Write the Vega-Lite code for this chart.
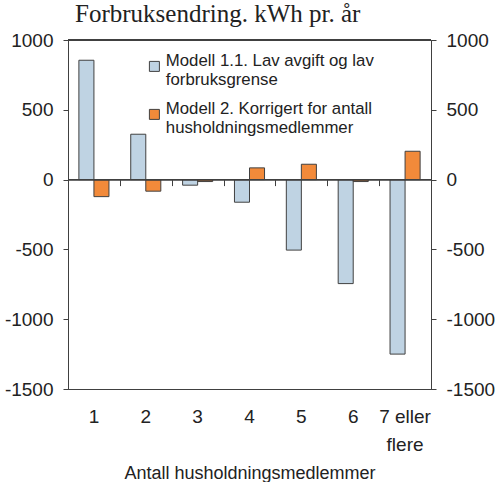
{
  "$schema": "https://vega.github.io/schema/vega-lite/v6.json",
  "width": 363,
  "height": 349,
  "padding": {"left": 4, "top": 2, "right": 3, "bottom": 0},
  "background": "white",
  "title": {
    "text": "Forbruksendring. kWh pr. år",
    "font": "Liberation Serif",
    "fontSize": 25,
    "fontWeight": "normal",
    "color": "#222222",
    "anchor": "start",
    "frame": "group",
    "dx": 7,
    "offset": 4
  },
  "config": {
    "view": {"stroke": "#404040", "strokeWidth": 1},
    "axis": {
      "labelFont": "Liberation Sans",
      "titleFont": "Liberation Sans",
      "labelColor": "#222222",
      "titleColor": "#222222",
      "domainColor": "#404040",
      "tickColor": "#404040",
      "grid": false
    }
  },
  "data": {
    "values": [
      {"group": "1", "model": "Modell 1.1. Lav avgift og lav forbruksgrense", "value": 855},
      {"group": "1", "model": "Modell 2. Korrigert for antall husholdningsmedlemmer", "value": -122},
      {"group": "2", "model": "Modell 1.1. Lav avgift og lav forbruksgrense", "value": 325},
      {"group": "2", "model": "Modell 2. Korrigert for antall husholdningsmedlemmer", "value": -83},
      {"group": "3", "model": "Modell 1.1. Lav avgift og lav forbruksgrense", "value": -40},
      {"group": "3", "model": "Modell 2. Korrigert for antall husholdningsmedlemmer", "value": -14},
      {"group": "4", "model": "Modell 1.1. Lav avgift og lav forbruksgrense", "value": -162},
      {"group": "4", "model": "Modell 2. Korrigert for antall husholdningsmedlemmer", "value": 84},
      {"group": "5", "model": "Modell 1.1. Lav avgift og lav forbruksgrense", "value": -505},
      {"group": "5", "model": "Modell 2. Korrigert for antall husholdningsmedlemmer", "value": 110},
      {"group": "6", "model": "Modell 1.1. Lav avgift og lav forbruksgrense", "value": -745},
      {"group": "6", "model": "Modell 2. Korrigert for antall husholdningsmedlemmer", "value": -14},
      {"group": "7 eller flere", "model": "Modell 1.1. Lav avgift og lav forbruksgrense", "value": -1250},
      {"group": "7 eller flere", "model": "Modell 2. Korrigert for antall husholdningsmedlemmer", "value": 203}
    ]
  },
  "resolve": {"axis": {"x": "independent", "y": "independent"}},
  "layer": [
    {
      "mark": {"type": "bar", "stroke": "#404040", "strokeWidth": 1},
      "encoding": {
        "x": {
          "field": "group",
          "type": "nominal",
          "sort": null,
          "scale": {"paddingInner": 0.42, "paddingOuter": 0.21},
          "axis": {
            "orient": "bottom",
            "title": "Antall husholdningsmedlemmer",
            "titleFontSize": 18,
            "titleFontWeight": "normal",
            "titlePadding": 10,
            "labelAngle": 0,
            "labelFontSize": 19,
            "labelPadding": 18,
            "labelLineHeight": 28,
            "ticks": false,
            "domain": true,
            "labelExpr": "datum.label == '7 eller flere' ? ['7 eller', 'flere'] : datum.label"
          }
        },
        "xOffset": {"field": "model", "type": "nominal", "scale": {"paddingInner": 0}},
        "y": {
          "field": "value",
          "type": "quantitative",
          "scale": {"domain": [-1500, 1000], "nice": false},
          "axis": {
            "orient": "left",
            "values": [-1500, -1000, -500, 0, 500, 1000],
            "labelExpr": "'' + datum.value",
            "title": null,
            "domain": true,
            "tickSize": 5,
            "labelPadding": 10,
            "labelFontSize": 19
          }
        },
        "color": {
          "field": "model",
          "type": "nominal",
          "scale": {"range": ["#bfd3e3", "#f28a3a"]},
          "legend": {
            "title": null,
            "orient": "none",
            "legendX": 78,
            "legendY": 18,
            "symbolType": "square",
            "symbolSize": 100,
            "symbolStrokeColor": "#404040",
            "symbolStrokeWidth": 1,
            "labelFont": "Liberation Sans",
            "labelFontSize": 16.8,
            "labelColor": "#222222",
            "labelLimit": 400,
            "labelOffset": 3,
            "labelBaseline": "alphabetic",
            "rowPadding": 12,
            "labelExpr": "indexof(datum.label, 'Modell 1') == 0 ? ['Modell 1.1. Lav avgift og lav', 'forbruksgrense'] : ['Modell 2. Korrigert for antall', 'husholdningsmedlemmer']"
          }
        }
      }
    },
    {
      "mark": {"type": "rule", "color": "#404040", "strokeWidth": 1},
      "encoding": {
        "y": {"datum": 0, "type": "quantitative", "axis": null}
      }
    },
    {
      "mark": {"type": "rule", "color": "#404040", "strokeWidth": 1},
      "encoding": {
        "y": {"datum": 1000, "type": "quantitative", "axis": null}
      }
    },
    {
      "mark": {"type": "text", "opacity": 0},
      "encoding": {
        "x": {
          "field": "group",
          "type": "nominal",
          "sort": null,
          "axis": {
            "orient": "top",
            "labels": false,
            "title": null,
            "domain": false,
            "ticks": true,
            "tickSize": -6,
            "tickWidth": 1,
            "tickColor": "#404040",
            "bandPosition": 0.5,
            "tickOffset": 25.93,
            "zindex": 1,
            "offset": -139.6
          }
        },
        "y": {
          "field": "value",
          "type": "quantitative",
          "axis": {
            "orient": "right",
            "values": [-1500, -1000, -500, 0, 500, 1000],
            "labelExpr": "'' + datum.value",
            "title": null,
            "domain": true,
            "tickSize": 5,
            "labelPadding": 10,
            "labelFontSize": 19
          }
        },
        "text": {"value": ""}
      }
    }
  ]
}
